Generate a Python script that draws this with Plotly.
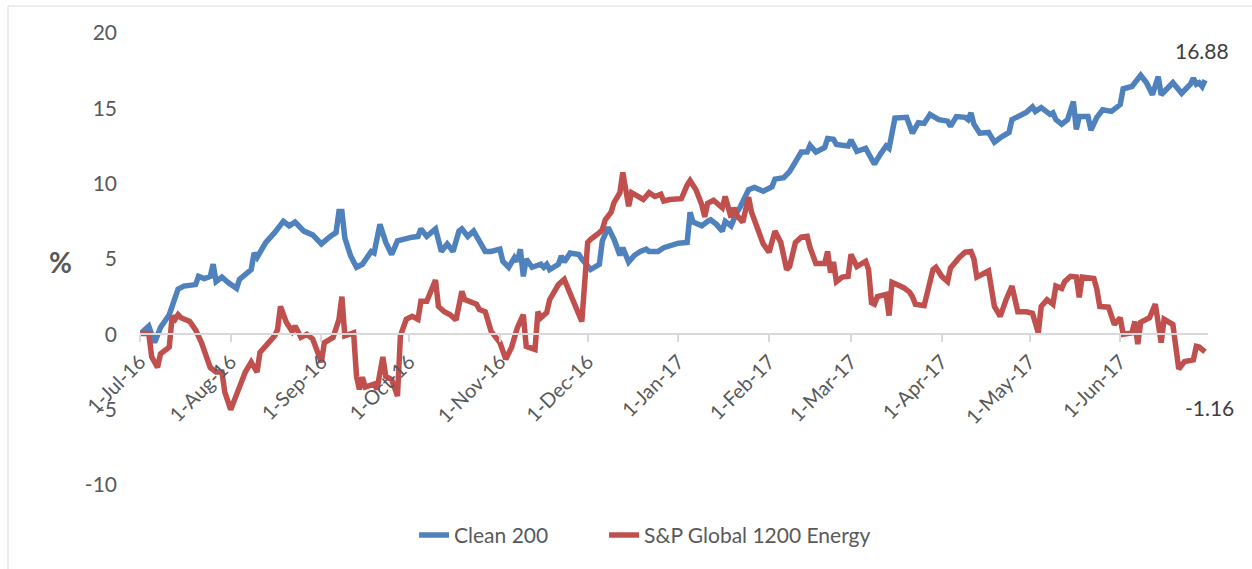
import plotly.graph_objects as go

# ---- data ----
clean_dates = [
    "2016-07-01","2016-07-04","2016-07-06","2016-07-08","2016-07-11","2016-07-14","2016-07-16","2016-07-20",
    "2016-07-21","2016-07-23","2016-07-25","2016-07-26","2016-07-27","2016-07-29","2016-07-31",
    "2016-08-03","2016-08-04","2016-08-08","2016-08-09","2016-08-10","2016-08-13","2016-08-15","2016-08-16",
    "2016-08-19","2016-08-21","2016-08-23","2016-08-26","2016-08-29",
    "2016-09-01","2016-09-04","2016-09-06","2016-09-07","2016-09-08","2016-09-09","2016-09-11","2016-09-13",
    "2016-09-15","2016-09-18","2016-09-19","2016-09-21","2016-09-23","2016-09-25","2016-09-27",
    "2016-10-02","2016-10-04","2016-10-05","2016-10-07","2016-10-10","2016-10-11","2016-10-12","2016-10-14",
    "2016-10-16","2016-10-18","2016-10-19","2016-10-21","2016-10-23","2016-10-27","2016-10-29",
    "2016-11-01","2016-11-02","2016-11-04","2016-11-06","2016-11-07","2016-11-08","2016-11-09","2016-11-10",
    "2016-11-12","2016-11-15","2016-11-16","2016-11-17","2016-11-18","2016-11-21","2016-11-22","2016-11-23",
    "2016-11-25","2016-11-28","2016-11-29",
    "2016-12-02","2016-12-05","2016-12-06","2016-12-08","2016-12-10","2016-12-12","2016-12-13","2016-12-15",
    "2016-12-17","2016-12-19","2016-12-21","2016-12-22","2016-12-25","2016-12-27","2016-12-29",
    "2017-01-01","2017-01-04","2017-01-05","2017-01-06","2017-01-09","2017-01-11","2017-01-12","2017-01-14",
    "2017-01-16","2017-01-17","2017-01-19","2017-01-21","2017-01-22","2017-01-25","2017-01-27","2017-01-30",
    "2017-02-02","2017-02-03","2017-02-06","2017-02-08","2017-02-10","2017-02-12","2017-02-14","2017-02-15",
    "2017-02-17","2017-02-20","2017-02-21","2017-02-23","2017-02-24","2017-02-28",
    "2017-03-01","2017-03-03","2017-03-06","2017-03-09","2017-03-11","2017-03-13","2017-03-14","2017-03-16",
    "2017-03-20","2017-03-22","2017-03-24","2017-03-26","2017-03-28","2017-03-31",
    "2017-04-03","2017-04-04","2017-04-06","2017-04-09","2017-04-10","2017-04-11","2017-04-12","2017-04-14",
    "2017-04-17","2017-04-19","2017-04-21","2017-04-24","2017-04-25","2017-04-28","2017-04-30",
    "2017-05-02","2017-05-03","2017-05-05","2017-05-08","2017-05-09","2017-05-10","2017-05-12","2017-05-14",
    "2017-05-16","2017-05-17","2017-05-18","2017-05-21","2017-05-22","2017-05-24","2017-05-26","2017-05-29",
    "2017-06-01","2017-06-02","2017-06-05","2017-06-06","2017-06-08","2017-06-10","2017-06-12","2017-06-14",
    "2017-06-15","2017-06-16","2017-06-19","2017-06-22","2017-06-25","2017-06-26","2017-06-27","2017-06-28",
    "2017-06-29","2017-06-30",
]
clean_values = [
    0.0, 0.55, -0.55, 0.45, 1.3, 3.0, 3.2, 3.3,
    3.85, 3.7, 3.85, 4.65, 3.5, 3.8, 3.45,
    3.05, 3.65, 4.3, 5.4, 5.1, 6.1, 6.5, 6.75,
    7.5, 7.2, 7.45, 6.85, 6.6,
    6.0, 6.5, 6.75, 8.15, 8.15, 6.4, 5.2, 4.45,
    4.65, 5.5, 5.4, 7.3, 6.1, 5.3, 6.2,
    6.45, 6.5, 7.0, 6.5, 7.0, 6.1, 5.5, 6.0,
    5.5, 6.85, 7.0, 6.5, 6.85, 5.5, 5.5,
    5.65, 4.85, 4.45, 5.1, 4.85, 5.65, 3.85, 5.0,
    4.45, 4.65, 4.45, 4.65, 4.3, 4.65, 5.2, 4.8,
    5.4, 5.3, 5.0,
    4.3, 4.65, 6.2, 7.1, 6.3, 5.25, 5.75, 4.8,
    5.25, 5.5, 5.65, 5.5, 5.5, 5.75, 5.85,
    6.05, 6.1, 8.1, 7.45, 7.2, 7.5, 7.6, 7.3,
    6.85, 7.5, 7.2, 8.1, 8.4, 9.6, 9.75, 9.5,
    9.8, 10.3, 10.4, 10.8, 11.5, 12.1, 12.1, 12.55,
    12.1, 12.4, 13.0, 12.95, 12.6, 12.5,
    12.9, 12.15, 12.35, 11.3, 11.95, 12.5, 12.35, 14.35,
    14.4, 13.35, 14.05, 14.0, 14.6, 14.25,
    14.15, 13.8, 14.45, 14.4, 14.25, 14.7, 13.95, 13.35,
    13.4, 12.75, 13.05, 13.4, 14.25, 14.55, 14.75,
    15.1, 14.8, 15.05, 14.6, 14.7, 14.25, 13.95, 14.25,
    15.45, 13.6, 14.45, 14.45, 13.55, 14.4, 14.9, 14.8,
    15.25, 16.3, 16.45, 16.7, 17.2, 16.7, 15.9, 17.1,
    15.9, 16.1, 16.7, 16.0, 16.6, 17.0, 16.6, 16.7,
    16.45, 16.88,
]

energy_dates = [
    "2016-07-01","2016-07-04","2016-07-05","2016-07-07","2016-07-08","2016-07-11","2016-07-12","2016-07-13",
    "2016-07-14","2016-07-15","2016-07-18","2016-07-20","2016-07-22","2016-07-24","2016-07-25","2016-07-27",
    "2016-07-29","2016-07-30",
    "2016-08-01","2016-08-02","2016-08-04","2016-08-06","2016-08-08","2016-08-10","2016-08-11","2016-08-13",
    "2016-08-16","2016-08-17","2016-08-18","2016-08-20","2016-08-22","2016-08-23","2016-08-25","2016-08-27",
    "2016-08-29",
    "2016-09-01","2016-09-02","2016-09-05","2016-09-07","2016-09-08","2016-09-09","2016-09-12","2016-09-13",
    "2016-09-14","2016-09-15","2016-09-16","2016-09-19","2016-09-20","2016-09-22","2016-09-23","2016-09-25",
    "2016-09-27","2016-09-28","2016-09-30",
    "2016-10-02","2016-10-04","2016-10-05","2016-10-07","2016-10-09","2016-10-10","2016-10-11","2016-10-13",
    "2016-10-15","2016-10-17","2016-10-19","2016-10-20","2016-10-24","2016-10-25","2016-10-27","2016-10-29",
    "2016-11-01","2016-11-03","2016-11-05","2016-11-07","2016-11-09","2016-11-10","2016-11-13","2016-11-14",
    "2016-11-15","2016-11-17","2016-11-18","2016-11-21","2016-11-23","2016-11-24","2016-11-26","2016-11-29",
    "2016-12-01","2016-12-02","2016-12-05","2016-12-06","2016-12-07","2016-12-09","2016-12-10","2016-12-12",
    "2016-12-13","2016-12-14","2016-12-15","2016-12-16","2016-12-18","2016-12-20","2016-12-22","2016-12-24",
    "2016-12-26","2016-12-27","2016-12-29",
    "2017-01-01","2017-01-02","2017-01-04","2017-01-05","2017-01-07","2017-01-09","2017-01-10","2017-01-11",
    "2017-01-13","2017-01-16","2017-01-17","2017-01-18","2017-01-19","2017-01-20","2017-01-21","2017-01-23",
    "2017-01-25","2017-01-26","2017-01-28","2017-01-30",
    "2017-02-01","2017-02-03","2017-02-05","2017-02-07","2017-02-08","2017-02-10","2017-02-12","2017-02-14",
    "2017-02-15","2017-02-17","2017-02-20","2017-02-21","2017-02-22","2017-02-23","2017-02-24","2017-02-26",
    "2017-02-28",
    "2017-03-01","2017-03-03","2017-03-06","2017-03-07","2017-03-08","2017-03-09","2017-03-10","2017-03-13",
    "2017-03-14","2017-03-15","2017-03-17","2017-03-19","2017-03-21","2017-03-22","2017-03-23","2017-03-26",
    "2017-03-29","2017-03-30",
    "2017-04-01","2017-04-03","2017-04-04","2017-04-06","2017-04-07","2017-04-09","2017-04-11","2017-04-12",
    "2017-04-13","2017-04-15","2017-04-17","2017-04-19","2017-04-21","2017-04-23","2017-04-25","2017-04-27",
    "2017-04-30",
    "2017-05-02","2017-05-04","2017-05-05","2017-05-07","2017-05-09","2017-05-10","2017-05-12","2017-05-13",
    "2017-05-15","2017-05-17","2017-05-18","2017-05-19","2017-05-23","2017-05-24","2017-05-25","2017-05-28",
    "2017-05-30",
    "2017-06-01","2017-06-02","2017-06-05","2017-06-06","2017-06-07","2017-06-08","2017-06-11","2017-06-13",
    "2017-06-14","2017-06-15","2017-06-16","2017-06-19","2017-06-21","2017-06-23","2017-06-26","2017-06-27",
    "2017-06-28","2017-06-30",
]
energy_values = [
    0.05, 0.05, -1.5, -2.2, -1.3, -0.85, 1.2, 1.0,
    1.3, 1.1, 0.85, 0.3, -0.55, -1.65, -2.2, -2.5,
    -2.5, -3.85,
    -5.0, -4.5, -3.45, -2.5, -1.85, -2.5, -1.2, -0.8,
    -0.1, 0.3, 1.85, 0.8, 0.2, 0.55, -0.2, 0.0,
    -0.3,
    -1.85, -0.55, -0.2, 1.0, 2.5, -0.1, 0.1, -2.8,
    -3.65, -2.85, -3.5, -3.3, -3.65, -1.5, -2.8, -3.0,
    -4.1, -0.1, 1.0,
    1.2, 1.0, 2.2, 2.2, 3.0, 3.6, 1.85, 1.5,
    1.3, 0.95, 2.85, 2.3, 2.0, 1.65, 1.5, 0.2,
    -0.55, -1.65, -0.85, 0.45, 1.3, -0.8, -1.0, 1.5,
    1.1, 1.45, 2.3, 3.3, 3.65, 3.2, 2.2, 0.85,
    6.1, 6.3, 6.75, 6.95, 7.6, 8.1, 8.75, 9.4,
    10.75, 9.6, 8.5, 9.4, 9.15, 8.95, 9.4, 9.15,
    9.3, 8.85, 8.95,
    8.95, 9.0, 9.9, 10.2, 9.6, 8.6, 7.8, 8.7,
    8.9, 8.4, 9.15, 8.5, 7.75, 8.4, 7.9, 7.45,
    9.1, 8.1, 6.95, 6.0,
    5.45, 6.85, 6.1, 4.3, 4.5, 6.1, 6.45, 6.5,
    5.75, 4.7, 4.7, 5.5, 4.1, 4.8, 3.5, 3.8,
    3.85,
    5.3, 4.5, 4.85, 4.3, 2.1, 2.0, 2.5, 2.65,
    1.25, 3.45, 3.3, 3.1, 2.8, 2.5, 2.0, 1.9,
    4.3, 4.45,
    3.85, 3.5, 4.4, 4.9, 5.1, 5.45, 5.5, 5.0,
    3.8, 4.0, 4.2, 1.85, 1.2, 2.3, 3.2, 1.5,
    1.5,
    1.4, 0.1, 1.85, 2.3, 2.0, 3.2, 3.05, 3.5,
    3.85, 3.8, 2.45, 3.8, 3.7, 3.0, 1.85, 1.8,
    0.65,
    1.1, 0.0, 0.1, 0.85, -0.65, 0.8, 1.1, 2.0,
    0.8, -0.55, 1.0, 0.65, -2.3, -1.8, -1.7, -0.8,
    -0.85, -1.16,
]

series_names = ["Clean 200", "S&P Global 1200 Energy"]
month_ticks = ["2016-07-01","2016-08-01","2016-09-01","2016-10-01","2016-11-01","2016-12-01",
               "2017-01-01","2017-02-01","2017-03-01","2017-04-01","2017-05-01","2017-06-01"]
month_labels = ["1-Jul-16","1-Aug-16","1-Sep-16","1-Oct-16","1-Nov-16","1-Dec-16",
                "1-Jan-17","1-Feb-17","1-Mar-17","1-Apr-17","1-May-17","1-Jun-17"]
y_ticks = [-10, -5, 0, 5, 10, 15, 20]
y_labels = ["-10", "-5", "0", "5", "10", "15", "20"]

FONT = "Lato"
BLUE = "#4F81BD"
RED = "#C0504D"
GREY_TXT = "#595959"

fig = go.Figure()
fig.add_trace(go.Scatter(x=clean_dates, y=clean_values, mode="lines", name=series_names[0],
                         line=dict(color=BLUE, width=5.5), legend="legend"))
fig.add_trace(go.Scatter(x=energy_dates, y=energy_values, mode="lines", name=series_names[1],
                         line=dict(color=RED, width=5.5), legend="legend2"))

fig.add_annotation(x=clean_dates[-1], y=clean_values[-1], text=f"{clean_values[-1]:.2f}",
                   showarrow=False, yshift=30, xshift=-3,
                   font=dict(family=FONT, size=21, color="#404040"))
fig.add_annotation(x=energy_dates[-1], y=energy_values[-1], text=f"{energy_values[-1]:.2f}",
                   showarrow=False, yshift=-56, xshift=4,
                   font=dict(family=FONT, size=21, color="#404040"))
fig.add_annotation(xref="paper", yref="paper", x=-0.0740, y=0.493, xanchor="center", yanchor="middle",
                   text="<b>%</b>", showarrow=False,
                   font=dict(family=FONT, size=28, color=GREY_TXT))

fig.add_shape(type="rect", xref="paper", yref="paper", x0=-0.1236, y0=-0.3, x1=1.2, y1=1.0597,
              line=dict(color="#d9d9d9", width=1), layer="below")

legend_font = dict(family=FONT, size=21, color=GREY_TXT)
fig.update_layout(
    width=1252, height=569,
    margin=dict(l=140, r=44, t=33, b=84, autoexpand=False),
    paper_bgcolor="white", plot_bgcolor="white",
    font=dict(family=FONT, color=GREY_TXT),
    showlegend=True,
    legend=dict(orientation="h", x=0.2566, xanchor="left", y=-0.066, yanchor="top",
                font=legend_font, bgcolor="rgba(0,0,0,0)"),
    legend2=dict(orientation="h", x=0.4345, xanchor="left", y=-0.066, yanchor="top",
                 font=legend_font, bgcolor="rgba(0,0,0,0)"),
    xaxis=dict(type="date", range=["2016-07-01", "2017-07-01"], anchor="free", position=1/3,
               automargin=False,
               tickvals=month_ticks, ticktext=month_labels, tickangle=-45,
               showgrid=False, zeroline=False, showline=True, linecolor="#d9d9d9", linewidth=2,
               ticks="outside", ticklen=7, tickcolor="#d9d9d9", tickwidth=2,
               tickfont=dict(family=FONT, size=20, color=GREY_TXT)),
    yaxis=dict(range=[-10, 20], tickvals=y_ticks, ticktext=y_labels, automargin=False,
               showgrid=False, zeroline=False, showline=False,
               ticks="", ticklabelstandoff=22,
               tickfont=dict(family=FONT, size=21, color=GREY_TXT)),
)

fig.write_html("out.html", config={"displayModeBar": False},
               post_script="document.body.style.margin='0';document.body.style.overflow='hidden';")
